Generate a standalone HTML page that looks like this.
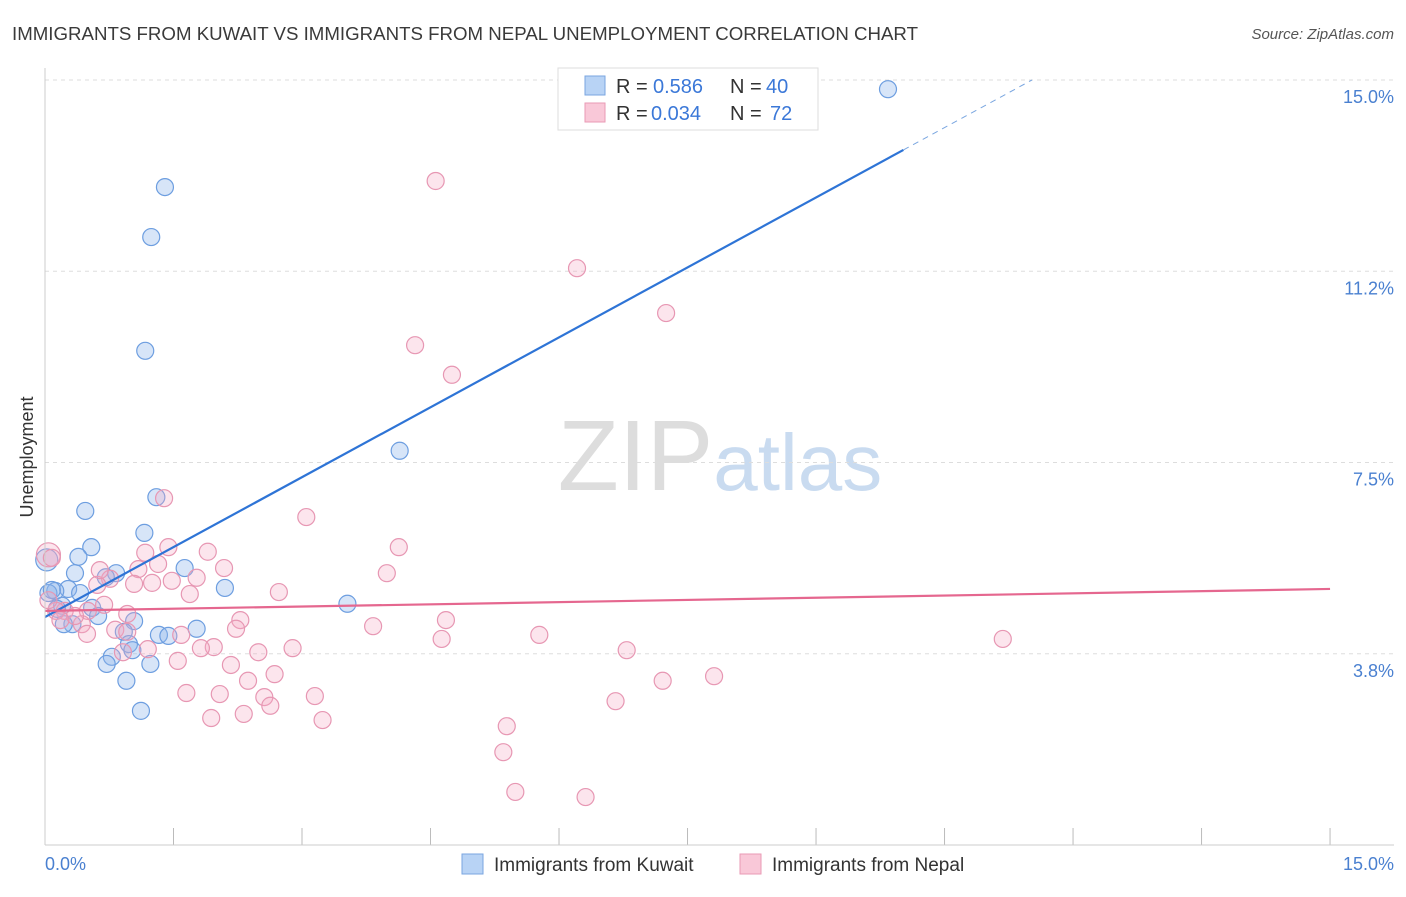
<!DOCTYPE html>
<html><head><meta charset="utf-8"><style>
body{margin:0;background:#fff;font-family:"Liberation Sans",sans-serif}
svg text{font-family:"Liberation Sans",sans-serif}
</style></head><body>
<svg id="chart" width="1406" height="892" xmlns="http://www.w3.org/2000/svg">
<text x="12" y="40" font-size="18" fill="#3a3a3a" textLength="906" lengthAdjust="spacingAndGlyphs">IMMIGRANTS FROM KUWAIT VS IMMIGRANTS FROM NEPAL UNEMPLOYMENT CORRELATION CHART</text>
<text x="1394" y="39" font-size="15" fill="#555" text-anchor="end" font-style="italic">Source: ZipAtlas.com</text>
<text transform="translate(33,457) rotate(-90)" font-size="18" fill="#333" text-anchor="middle">Unemployment</text>
<text x="720" y="490" font-size="100" text-anchor="middle" fill="#ddd" font-family="Liberation Serif">ZIP<tspan fill="#c9dbf0" font-family="Liberation Sans" font-size="80">atlas</tspan></text>
<g id="grid"></g><g id="ticks"></g><g id="pts"></g><g id="lines"></g>
<line x1="45" y1="845" x2="1394" y2="845" stroke="#ccc"/>
<line x1="45" y1="68" x2="45" y2="845" stroke="#ccc"/>
<text x="45" y="870" font-size="18" fill="#4a80d0">0.0%</text>
<text x="1394" y="870" font-size="18" fill="#4a80d0" text-anchor="end">15.0%</text>
<g>
<rect x="558" y="68" width="260" height="62" fill="#fff" stroke="#ddd"/>
<rect x="585" y="76" width="20" height="19" fill="#b8d3f5" stroke="#7aa6e0"/>
<rect x="585" y="103" width="20" height="19" fill="#f9c8d8" stroke="#e99ab5"/>
<text x="616" y="93" font-size="20" fill="#333">R =</text>
<text x="653" y="93" font-size="20" fill="#3b78d8">0.586</text>
<text x="730" y="93" font-size="20" fill="#333">N =</text>
<text x="766" y="93" font-size="20" fill="#3b78d8">40</text>
<text x="616" y="120" font-size="20" fill="#333">R =</text>
<text x="651" y="120" font-size="20" fill="#3b78d8">0.034</text>
<text x="730" y="120" font-size="20" fill="#333">N =</text>
<text x="770" y="120" font-size="20" fill="#3b78d8">72</text>
</g>
<g>
<rect x="462" y="854" width="21" height="20" fill="#b8d3f5" stroke="#7aa6e0"/>
<text x="494" y="871" font-size="19" fill="#333">Immigrants from Kuwait</text>
<rect x="740" y="854" width="21" height="20" fill="#f9c8d8" stroke="#e99ab5"/>
<text x="772" y="871" font-size="19" fill="#333">Immigrants from Nepal</text>
</g>
</svg>
<script>
const yTicks=[15,11.25,7.5,3.75];
const yTickLabels=["15.0%","11.2%","7.5%","3.8%"];
const xTicks=[0,1.5,3,4.5,6,7.5,9,10.5,12,13.5,15];
const kuwaitX=[9.84,1.40,1.24,1.17,4.14,1.30,0.47,1.16,0.54,0.39,0.02,0.35,0.83,0.71,1.63,2.10,0.27,0.12,0.41,0.04,0.20,0.14,0.55,0.62,0.32,0.22,1.04,0.92,1.77,1.33,1.44,0.98,1.02,0.78,0.72,1.23,0.95,1.12,3.53,0.08];
const kuwaitY=[14.82,12.90,11.92,9.69,7.73,6.82,6.55,6.12,5.84,5.65,5.59,5.33,5.33,5.25,5.43,5.04,5.02,4.98,4.94,4.94,4.69,4.63,4.65,4.49,4.33,4.33,4.39,4.18,4.24,4.12,4.10,3.94,3.82,3.69,3.55,3.55,3.22,2.63,4.73,5.00];
const nepalX=[4.56,6.21,7.25,4.32,4.75,1.39,3.05,4.13,0.04,0.08,1.17,1.44,1.90,1.32,2.09,3.99,1.09,0.76,1.25,1.48,1.77,1.04,0.61,2.73,1.69,0.69,0.96,0.50,0.23,2.28,0.43,3.83,4.68,5.77,0.49,0.82,2.23,1.59,0.96,2.89,1.97,1.82,2.49,4.63,6.79,11.18,1.20,0.91,1.55,2.17,2.68,7.81,7.21,2.37,1.65,2.04,2.56,3.15,2.63,6.66,1.94,2.32,3.24,5.39,5.35,5.49,6.31,0.13,0.35,0.04,0.18,0.64];
const nepalY=[13.02,11.31,10.43,9.80,9.22,6.80,6.43,5.84,5.69,5.63,5.73,5.84,5.75,5.51,5.43,5.33,5.41,5.22,5.14,5.18,5.24,5.12,5.10,4.96,4.92,4.71,4.53,4.59,4.59,4.41,4.33,4.29,4.41,4.12,4.14,4.22,4.24,4.12,4.18,3.86,3.88,3.86,3.78,4.04,3.82,4.04,3.84,3.78,3.61,3.53,3.35,3.31,3.22,3.22,2.98,2.96,2.90,2.92,2.73,2.82,2.49,2.57,2.45,2.33,1.82,1.04,0.94,4.59,4.49,4.80,4.41,5.39];
const kuwaitTrend=[4.47,0.914];
const nepalTrend=[4.59,0.0287];
const X=v=>45+v*85.67, Y=v=>80+(15-v)*51;
const NS="http://www.w3.org/2000/svg";
function mk(tag,parent,attrs){const e=document.createElementNS(NS,tag);for(const k in attrs)e.setAttribute(k,attrs[k]);document.getElementById(parent).appendChild(e);return e;}
yTicks.forEach((t,i)=>{
 const l=mk('line','grid',{x1:45,x2:1394,y1:Y(t),y2:Y(t),stroke:'#ddd','stroke-dasharray':'4,4'});
 
 
 const tx=mk('text','grid',{x:1394,y:Y(t)+23,'font-size':18,fill:'#4a80d0','text-anchor':'end'});
 tx.textContent=yTickLabels[i];
 
 
});
xTicks.forEach(t=>{
 const l=mk('line','ticks',{x1:X(t),x2:X(t),y1:828,y2:845,stroke:'#bbb'});
 
 
});
kuwaitX.forEach((x,i)=>{
 const c=mk('circle','pts',{cx:X(x),cy:Y(kuwaitY[i]),r:(i==10?11:8.5),fill:'rgba(140,180,235,0.35)',stroke:'#6d9ee0','stroke-width':1.2});
 
 
});
nepalX.forEach((x,i)=>{
 const c=mk('circle','pts',{cx:X(x),cy:Y(nepalY[i]),r:(i==8?12:8.5),fill:'rgba(245,170,195,0.3)',stroke:'#e797b3','stroke-width':1.2});
 
 
});
const kEnd=10.02, kDash=(15-kuwaitTrend[0])/kuwaitTrend[1];
const k1=mk('line','lines',{x1:X(0),y1:Y(kuwaitTrend[0]),x2:X(kEnd),y2:Y(kuwaitTrend[0]+kuwaitTrend[1]*kEnd),stroke:'#2e74d6','stroke-width':2.2});


const k2=mk('line','lines',{x1:X(kEnd),y1:Y(kuwaitTrend[0]+kuwaitTrend[1]*kEnd),x2:X(kDash),y2:Y(15),stroke:'#7aa6e0','stroke-width':1,'stroke-dasharray':'6,5'});


const n1=mk('line','lines',{x1:X(0),y1:Y(nepalTrend[0]),x2:X(15),y2:Y(nepalTrend[0]+nepalTrend[1]*15),stroke:'#e5678f','stroke-width':2.2});


</script>
</body></html>
